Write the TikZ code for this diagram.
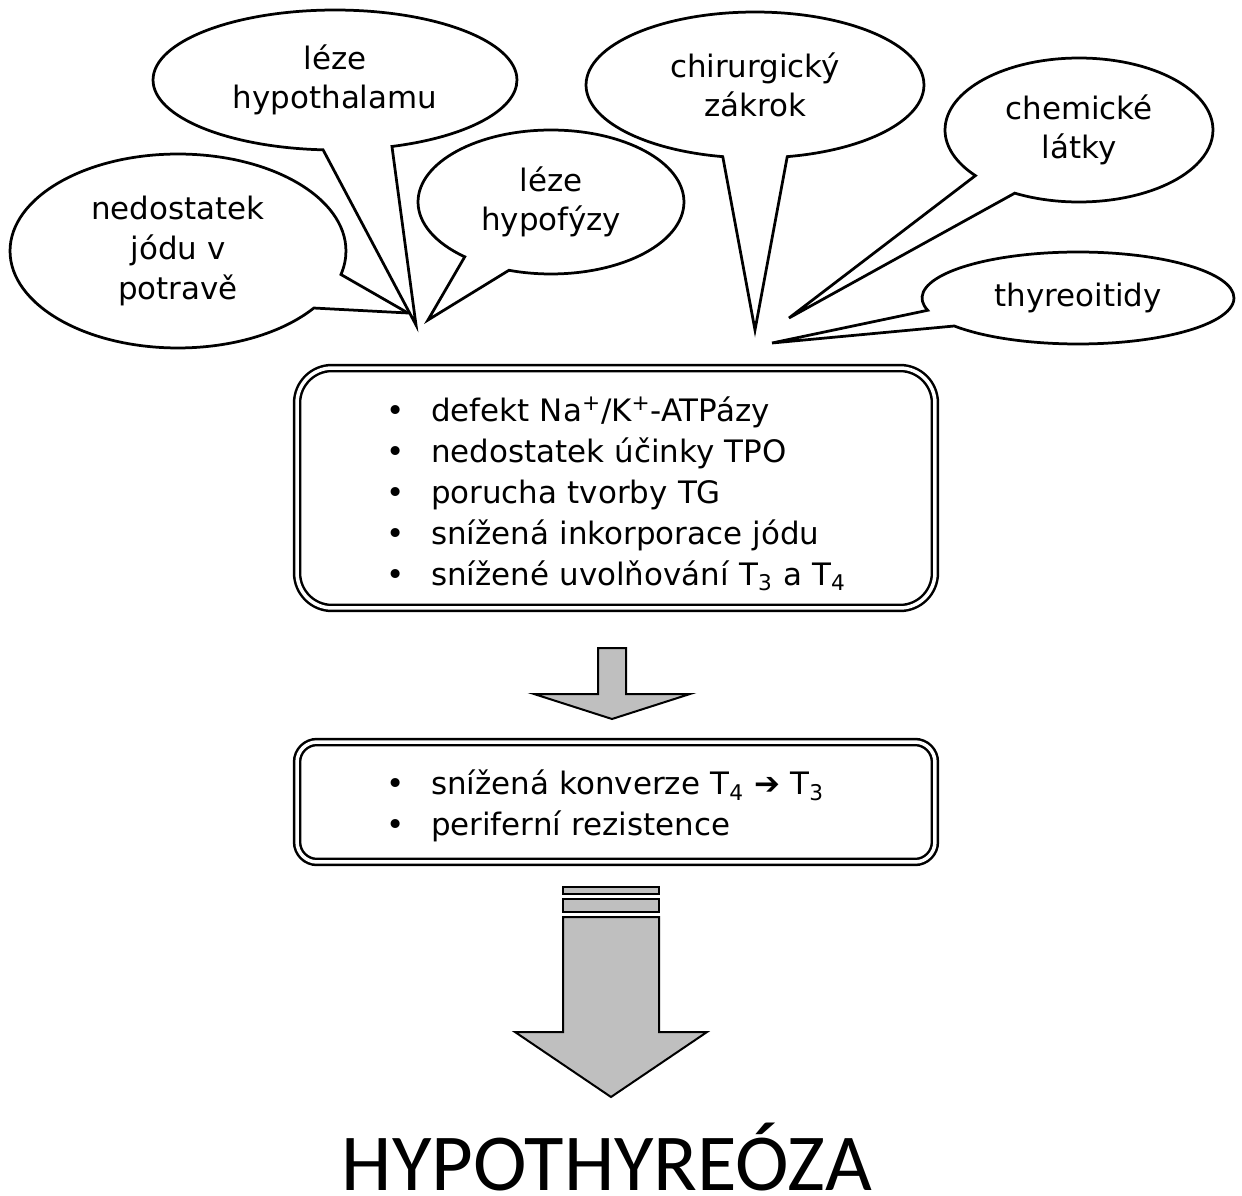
\documentclass[tikz,border=0pt]{standalone}
\usepackage{fontspec}
\setmainfont{DejaVu Sans}
\newfontfamily\titlefont{Carlito}
\usetikzlibrary{shapes.callouts}

\tikzset{
  bubble/.style={ellipse callout, draw, line width=0.055cm, fill=white,
    align=center, inner sep=0pt, callout pointer arc=22},
  causebox/.style={draw, line width=0.05cm, double, double distance=0.07cm,
    minimum width=12.76cm},
  bulletlist/.style={text width=9.2cm, align=left, inner sep=0pt,
    font=\fontsize{17.6}{23.3}\selectfont},
  blockarrow/.style={draw, line width=0.04cm, fill=black!25, line join=miter},
}
\newcommand{\itm}{\makebox[0.9cm][l]{\textbullet}}

\begin{document}
\begin{tikzpicture}[x=0.02cm, y=-0.02cm, font=\fontsize{17.6}{22.5}\selectfont]
\useasboundingbox (0,0) rectangle (1242,1196);
% ---- callouts: causes ----
\node[bubble, minimum width=6.72cm, minimum height=3.88cm,
  callout absolute pointer={(408,313)}] (jod) at (178,251) {nedostatek\\jódu v\\potravě};
\node[bubble, minimum width=7.28cm, minimum height=2.8cm,
  callout absolute pointer={(416,325)}] (hypothal) at (335,80) {léze\\hypothalamu};
\node[bubble, minimum width=5.32cm, minimum height=2.88cm,
  callout absolute pointer={(428,320)}] (hypofyza) at (551,202) {léze\\hypofýzy};
\node[bubble, minimum width=6.76cm, minimum height=2.92cm,
  callout absolute pointer={(755,330)}] (zakrok) at (755,85) {chirurgický\\zákrok};
\node[bubble, minimum width=5.36cm, minimum height=2.88cm,
  callout absolute pointer={(789,318)}] (chem) at (1079,130) {chemické\\látky};
\node[bubble, minimum width=6.24cm, minimum height=1.84cm,
  callout absolute pointer={(772,343)}] (thyr) at (1078,298) {thyreoitidy};
% ---- thyroid defects ----
\node[causebox, rounded corners=0.7cm, minimum height=4.8cm] (defekt) at (616,488) {};
\node[bulletlist] (defektlist) at (616,494) {%
  \itm defekt Na\textsuperscript{+}/K\textsuperscript{+}-ATPázy\\
  \itm nedostatek účinky TPO\\
  \itm porucha tvorby TG\\
  \itm snížená inkorporace jódu\\
  \itm snížené uvolňování T\textsubscript{3} a T\textsubscript{4}};
% small arrow
\draw[blockarrow] (598,648) -- (626,648) -- (626,694) -- (690,694) -- (612,719)
  -- (534,694) -- (598,694) -- cycle;
% ---- periphery ----
\node[causebox, rounded corners=0.4cm, minimum height=2.4cm] (periferie) at (616,802) {};
\node[bulletlist] (periferielist) at (616,806) {%
  \itm snížená konverze T\textsubscript{4} {\bfseries ➔} T\textsubscript{3}\\
  \itm periferní rezistence};
% big striped arrow
\draw[blockarrow] (563,887) rectangle (659,894);
\draw[blockarrow] (563,899) rectangle (659,912);
\draw[blockarrow] (563,917) -- (659,917) -- (659,1032) -- (707,1032) -- (611,1097)
  -- (515,1032) -- (563,1032) -- cycle;
% ---- result ----
\node[anchor=base, inner sep=0pt, text depth=0pt,
  font=\titlefont\fontsize{46}{50}\selectfont] (vysledek) at (607,1190) {HYPOTHYREÓZA};
\end{tikzpicture}
\end{document}
